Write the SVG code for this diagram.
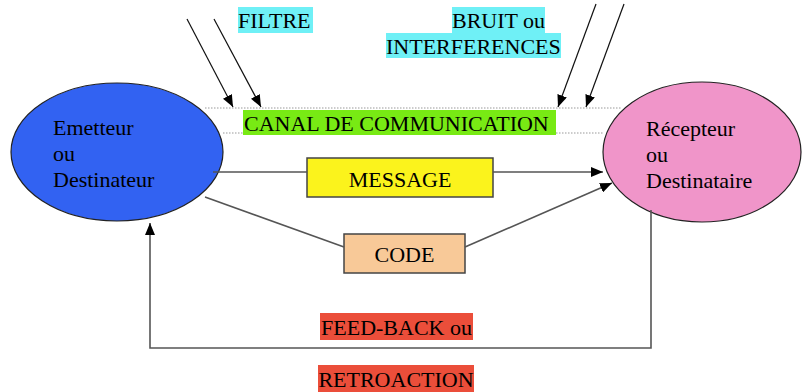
<svg xmlns="http://www.w3.org/2000/svg" width="806" height="392" viewBox="0 0 806 392">
<style>
text{font-family:"Liberation Serif","Times New Roman",serif;font-size:22px;fill:#000}
.ln{stroke:#555;stroke-width:1.6;fill:none}
.tl{stroke:#111;stroke-width:1.2;fill:none}
.dot{stroke:#999;stroke-width:1;stroke-dasharray:1.5 1.5;fill:none}
.box{stroke:#444;stroke-width:1.5}
</style>
<defs>
<marker id="ah" viewBox="0 0 12 10" refX="12" refY="5" markerWidth="12" markerHeight="10" markerUnits="userSpaceOnUse" orient="auto">
<path d="M0,0 L12,5 L0,10 Z" fill="#000"/>
</marker>
</defs>
<rect width="806" height="392" fill="#fff"/>
<g id="channel">
<line class="dot" x1="205" y1="108" x2="621" y2="108"/>
<line class="dot" x1="223" y1="133" x2="603" y2="133"/>
<rect x="243" y="110" width="313" height="25" fill="#78ea14"/>
<text x="244" y="131">CANAL DE COMMUNICATION</text>
</g>
<g id="filtre">
<rect x="238" y="7" width="75" height="26" fill="#6ff0f6"/>
<text x="238" y="28">FILTRE</text>
</g>
<g id="bruit">
<rect x="452" y="7" width="93" height="26" fill="#6ff0f6"/>
<rect x="386" y="33" width="175" height="25" fill="#6ff0f6"/>
<text x="452" y="28">BRUIT ou</text>
<text x="386" y="54">INTERFERENCES</text>
</g>
<g id="emetteur">
<ellipse cx="117" cy="152" rx="106" ry="69" fill="#3262f2" stroke="#222" stroke-width="1.2"/>
<text x="53" y="135">Emetteur</text>
<text x="53" y="161">ou</text>
<text x="53" y="187">Destinateur</text>
</g>
<g id="recepteur">
<ellipse cx="702" cy="152" rx="99" ry="70" fill="#f095c9" stroke="#222" stroke-width="1.2"/>
<text x="646" y="136">Récepteur</text>
<text x="646" y="162">ou</text>
<text x="646" y="188">Destinataire</text>
</g>
<g id="message">
<rect class="box" x="307" y="158" width="186" height="39" fill="#fbf31c"/>
<text x="400" y="187" text-anchor="middle">MESSAGE</text>
</g>
<g id="code">
<rect class="box" x="344" y="234" width="121" height="39" fill="#f8c998"/>
<text x="404.5" y="262" text-anchor="middle">CODE</text>
</g>
<g id="feedback">
<rect x="320" y="313" width="153" height="27" fill="#eb4e3a"/>
<text x="396.5" y="335" text-anchor="middle">FEED-BACK ou</text>
<rect x="318" y="365" width="156" height="27" fill="#eb4e3a"/>
<text x="396" y="387" text-anchor="middle">RETROACTION</text>
</g>
<g id="connectors">
<line class="tl" x1="187" y1="19" x2="233" y2="107" marker-end="url(#ah)"/>
<line class="tl" x1="214" y1="19" x2="261" y2="107" marker-end="url(#ah)"/>
<line class="tl" x1="596" y1="4" x2="558" y2="107" marker-end="url(#ah)"/>
<line class="tl" x1="624" y1="4" x2="586" y2="107" marker-end="url(#ah)"/>
<line class="ln" x1="213" y1="172" x2="307" y2="172"/>
<line class="ln" x1="493" y1="172" x2="603" y2="172" marker-end="url(#ah)"/>
<line class="ln" x1="205" y1="197" x2="344" y2="247"/>
<line class="ln" x1="465" y1="247" x2="612" y2="183" marker-end="url(#ah)"/>
<polyline class="ln" points="651,210 651,348 150,348 150,223" marker-end="url(#ah)"/>
</g>
</svg>
